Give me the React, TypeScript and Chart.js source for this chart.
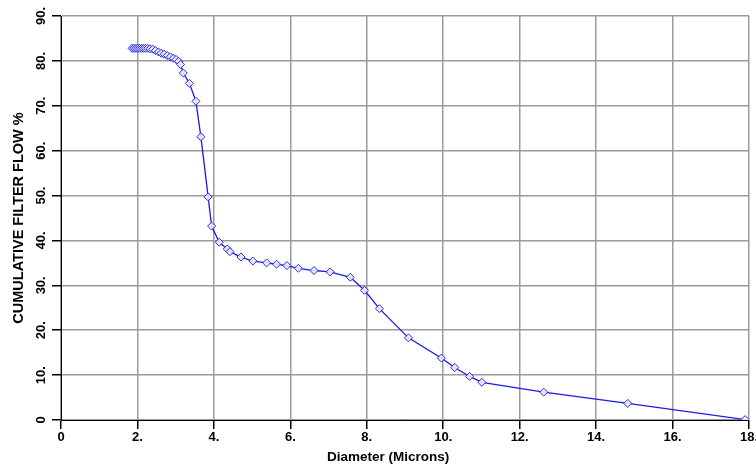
import React, { useEffect, useRef } from "react";
import { Chart, registerables } from "chart.js";

Chart.register(...registerables);

const diameters = [
  1.86, 1.91, 1.96, 2.01, 2.06, 2.11, 2.16, 2.21, 2.27, 2.33, 2.4,
  2.47, 2.55, 2.62, 2.7, 2.78, 2.86, 2.94, 3.01, 3.08, 3.13, 3.2,
  3.36, 3.53, 3.66, 3.85, 3.94, 4.14, 4.35, 4.42, 4.71, 5.02, 5.38,
  5.64, 5.91, 6.21, 6.62, 7.04, 7.57, 7.94, 8.33, 9.09, 9.95, 10.3,
  10.69, 11.01, 12.63, 14.83, 17.9,
];

const cumulativeFlow = [
  82.8, 82.8, 82.8, 82.8, 82.8, 82.8, 82.8, 82.8, 82.8, 82.7, 82.6,
  82.3, 82.0, 81.7, 81.5, 81.2, 80.9, 80.6, 80.3, 79.9, 79.2, 77.3,
  75.0, 71.0, 63.1, 49.7, 43.2, 39.6, 38.1, 37.5, 36.3, 35.4, 35.0,
  34.7, 34.4, 33.8, 33.3, 33.0, 31.8, 28.9, 24.8, 18.3, 13.8, 11.7,
  9.7, 8.4, 6.2, 3.7, 0.1,
];

const xTickValues = [0, 2, 4, 6, 8, 10, 12, 14, 16, 18];
const yTickValues = [0, 10, 20, 30, 40, 50, 60, 70, 80, 90];

const xTitle = "Diameter (Microns)";
const yTitle = "CUMULATIVE FILTER FLOW %";

const fmt = (v: number) => (v === 0 ? "0" : `${v}.`);

export default function App() {
  const canvasRef = useRef<HTMLCanvasElement | null>(null);

  useEffect(() => {
    if (!canvasRef.current) return;
    const family = "'Liberation Sans', Arial, sans-serif";
    const tickFont = { family, size: 13, weight: "bold" as const };
    const xTitleFont = { family, size: 13.5, weight: "bold" as const };
    const yTitleFont = { family, size: 14.5, weight: "bold" as const };
    const chart = new Chart(canvasRef.current, {
      type: "scatter",
      data: {
        datasets: [
          {
            data: diameters.map((d, i) => ({ x: d, y: cumulativeFlow[i] })),
            showLine: true,
            borderColor: "#1a1ae6",
            borderWidth: 1.3,
            tension: 0,
            pointStyle: "rectRot",
            pointRadius: 4,
            pointBorderWidth: 1,
            pointBorderColor: "#2a2ae0",
            pointBackgroundColor: "rgba(235,235,255,0.9)",
          },
        ],
      },
      options: {
        responsive: false,
        animation: false,
        events: [],
        layout: { padding: { top: 16, right: 7, bottom: 0, left: 0 } },
        plugins: { legend: { display: false }, tooltip: { enabled: false } },
        scales: {
          x: {
            type: "linear",
            min: 0,
            max: 18,
            afterBuildTicks: (scale: any) => {
              scale.ticks = xTickValues.map((v) => ({ value: v }));
            },
            afterFit: (scale: any) => {
              scale.height = 50;
              scale.paddingLeft = 0;
              scale.paddingRight = 0;
            },
            ticks: {
              callback: (v: any) => fmt(Number(v)),
              color: "#000",
              font: tickFont,
              padding: 1,
              maxRotation: 0,
              minRotation: 0,
            },
            grid: { color: "#9a9a9a", lineWidth: 1.5, tickLength: 9, tickColor: "#000", drawTicks: true },
            border: { color: "#000", width: 1 },
            title: {
              display: true,
              text: xTitle + "         ",
              color: "#000",
              font: xTitleFont,
              padding: { top: 4, bottom: 5 },
            },
          },
          y: {
            type: "linear",
            min: 0,
            max: 90,
            afterBuildTicks: (scale: any) => {
              scale.ticks = yTickValues.map((v) => ({ value: v }));
            },
            afterFit: (scale: any) => {
              scale.width = 61;
              scale.paddingTop = 0;
              scale.paddingBottom = 0;
            },
            ticks: {
              callback: (v: any) => fmt(Number(v)),
              color: "#000",
              font: tickFont,
              padding: 2,
              minRotation: 90,
              maxRotation: 90,
              crossAlign: "center",
            },
            grid: { color: "#9a9a9a", lineWidth: 1.5, tickLength: 9, tickColor: "#000", drawTicks: true },
            border: { color: "#000", width: 1 },
            title: {
              display: true,
              text: yTitle,
              color: "#000",
              font: yTitleFont,
              padding: { top: 10, bottom: 0 },
            },
          },
        },
      },
    });
    return () => chart.destroy();
  }, []);

  return (
    <div style={{ position: "absolute", left: 0, top: 0, width: 756, height: 470, background: "#fff" }}>
      <canvas ref={canvasRef} width={756} height={470} />
    </div>
  );
}
